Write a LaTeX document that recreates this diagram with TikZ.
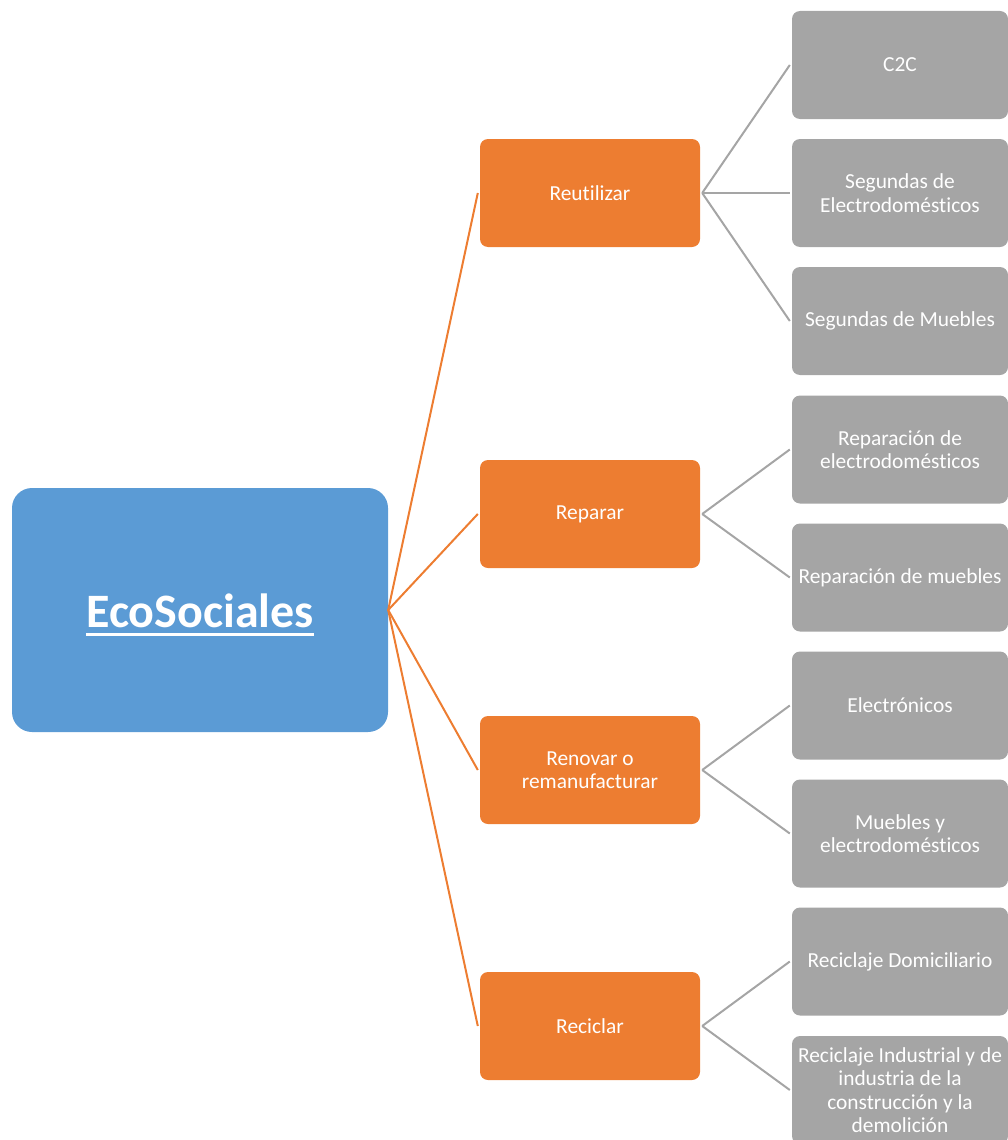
\documentclass[tikz,border=0pt]{standalone}
\usepackage{fontspec}
\setmainfont{Carlito}[Ligatures=NoCommon]
\definecolor{cblue}{HTML}{5B9BD5}
\definecolor{corange}{HTML}{ED7D31}
\definecolor{cgray}{HTML}{A5A5A5}
\begin{document}
\begin{tikzpicture}[x=1pt,y=-1pt,
  rootbox/.style={fill=cblue, rounded corners=20pt, minimum width=376pt, minimum height=244pt, inner sep=0pt, text=white, font=\fontsize{48}{56}\selectfont\bfseries},
  midbox/.style={fill=corange, rounded corners=8pt, minimum width=220pt, minimum height=108pt, inner sep=0pt, text=white, align=center, font=\fontsize{21.4}{23.5}\selectfont},
  leafbox/.style={fill=cgray, rounded corners=8pt, minimum width=216pt, minimum height=108pt, inner sep=0pt, text=white, align=center, font=\fontsize{21.4}{23.5}\selectfont},
  olink/.style={draw=corange, line width=2pt},
  glink/.style={draw=cgray, line width=2pt}]
\useasboundingbox (0,0) rectangle (1008,1140);
\clip (0,0) rectangle (1008,1140);
\node[rootbox] (root) at (200,610) {};
\node[text=white, inner sep=0pt, font=\fontsize{48}{56}\selectfont\bfseries] (rootlabel) at ([yshift=-1pt]root.center) {EcoSociales};
\draw[white, line width=3pt] ([yshift=-7pt]rootlabel.base west) -- ([yshift=-7pt]rootlabel.base east);
\node[midbox] (m1) at (590,193) {Reutilizar};
\node[midbox] (m2) at (590,514) {Reparar};
\node[midbox] (m3) at (590,770) {Renovar o\\remanufacturar};
\node[midbox] (m4) at (590,1026) {Reciclar};
\node[leafbox] (l1) at (900,65) {C2C};
\node[leafbox] (l2) at (900,193) {Segundas de\\Electrodomésticos};
\node[leafbox] (l3) at (900,321) {Segundas de Muebles};
\node[leafbox] (l4) at (900,449.5) {Reparación de\\electrodomésticos};
\node[leafbox] (l5) at (900,577.5) {Reparación de muebles};
\node[leafbox] (l6) at (900,705.5) {Electrónicos};
\node[leafbox] (l7) at (900,833.5) {Muebles y\\electrodomésticos};
\node[leafbox] (l8) at (900,961.5) {Reciclaje Domiciliario};
\node[leafbox] (l9) at (900,1090) {Reciclaje Industrial y de\\industria de la\\construcción y la\\demolición};
\foreach \m in {m1,m2,m3,m4} \draw[olink] (root.east) -- ([xshift=-2pt]\m.west);
\draw[glink] ([xshift=2pt]m1.east) -- ([xshift=-2pt]l1.west);
\draw[glink] ([xshift=2pt]m1.east) -- ([xshift=-2pt]l2.west);
\draw[glink] ([xshift=2pt]m1.east) -- ([xshift=-2pt]l3.west);
\draw[glink] ([xshift=2pt]m2.east) -- ([xshift=-2pt]l4.west);
\draw[glink] ([xshift=2pt]m2.east) -- ([xshift=-2pt]l5.west);
\draw[glink] ([xshift=2pt]m3.east) -- ([xshift=-2pt]l6.west);
\draw[glink] ([xshift=2pt]m3.east) -- ([xshift=-2pt]l7.west);
\draw[glink] ([xshift=2pt]m4.east) -- ([xshift=-2pt]l8.west);
\draw[glink] ([xshift=2pt]m4.east) -- ([xshift=-2pt]l9.west);
\end{tikzpicture}
\end{document}
